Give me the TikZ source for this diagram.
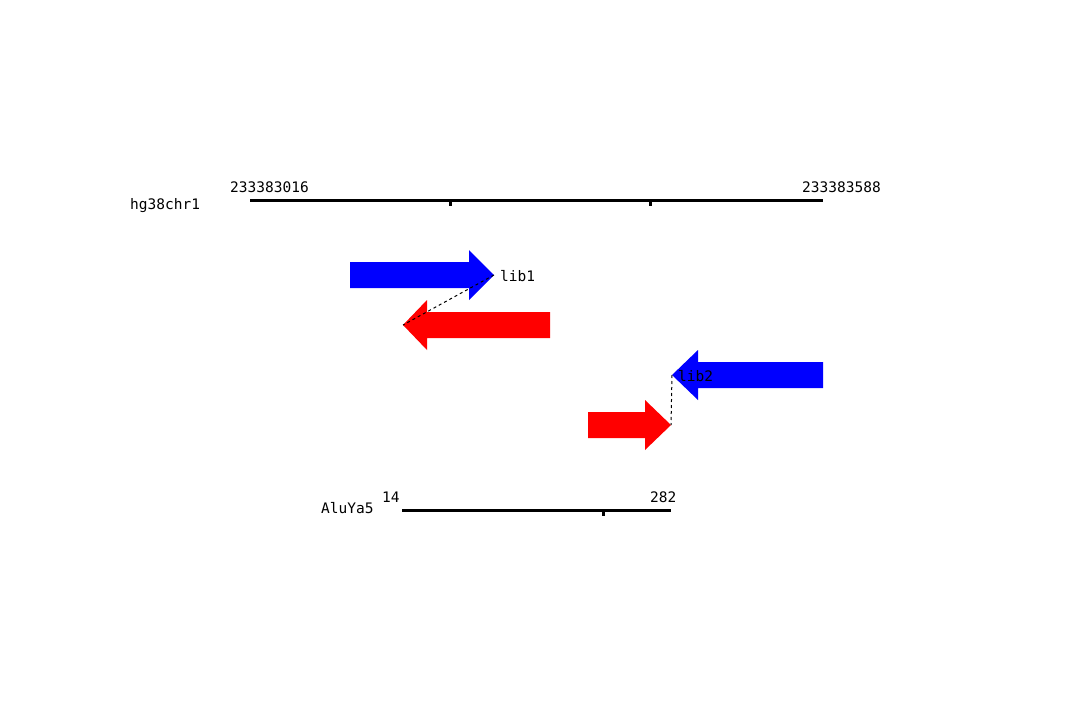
\documentclass[tikz,border=0pt]{standalone}
\usepackage{fontspec}
\setmonofont{DejaVu Sans Mono}
\usepackage{tikz}
\tikzset{lbl/.append style={inner sep=0pt,anchor=mid west,font=\ttfamily\fontsize{14.5}{16}\selectfont}}
\tikzset{ruler/.append style={line width=3pt}}
\tikzset{fwd/.append style={fill=blue}}
\tikzset{rev/.append style={fill=red}}
\tikzset{link/.append style={line width=1pt,dash pattern=on 3pt off 3pt}}

\begin{document}
\begin{tikzpicture}[x=1pt,y=-1pt]
                \useasboundingbox (0,0) rectangle (1072,710);
                % reference and repeat
                \coordinate (chrL) at (250,200);
                \coordinate (chrR) at (823,200);
                \coordinate (aluL) at (402,510);
                \coordinate (aluR) at (671,510);
                \draw[ruler] (chrL) -- (chrR);
                \draw[ruler] (450,200) -- (450,206) (650,200) -- (650,206);
                \draw[ruler] (aluL) -- (aluR);
                \draw[ruler] (603,510) -- (603,516);
                \node[lbl] (chr) at (130,207) {hg38chr1};
                \node[lbl] (chrs) at (230,190) {233383016};
                \node[lbl] (chre) at (802,190) {233383588};
                \node[lbl] (alu) at (321,511) {AluYa5};
                \node[lbl] (alus) at (382,500) {14};
                \node[lbl] (alue) at (650,500) {282};
                % reads
                \fill[fwd] (350,262) -- (469,262) -- (469,250) -- (494,275) -- (469,300) -- (469,288) -- (350,288) -- cycle;
                \fill[rev] (550,312) -- (427,312) -- (427,300) -- (403,325) -- (427,350) -- (427,338) -- (550,338) -- cycle;
                \fill[fwd] (823,362) -- (698,362) -- (698,350) -- (672,375) -- (698,400) -- (698,388) -- (823,388) -- cycle;
                \fill[rev] (588,412) -- (645,412) -- (645,400) -- (671,425) -- (645,450) -- (645,438) -- (588,438) -- cycle;
                \coordinate (a1) at (494,275);
                \coordinate (b1) at (403,325);
                \coordinate (a2) at (672,375);
                \coordinate (b2) at (671,425);
                \node[lbl] (l1) at (500,279) {lib1};
                \node[lbl] (l2) at (678,379) {lib2};
                \path (a1) edge[link] (b1);
                \path (a2) edge[link] (b2);
            \end{tikzpicture}
\end{document}
